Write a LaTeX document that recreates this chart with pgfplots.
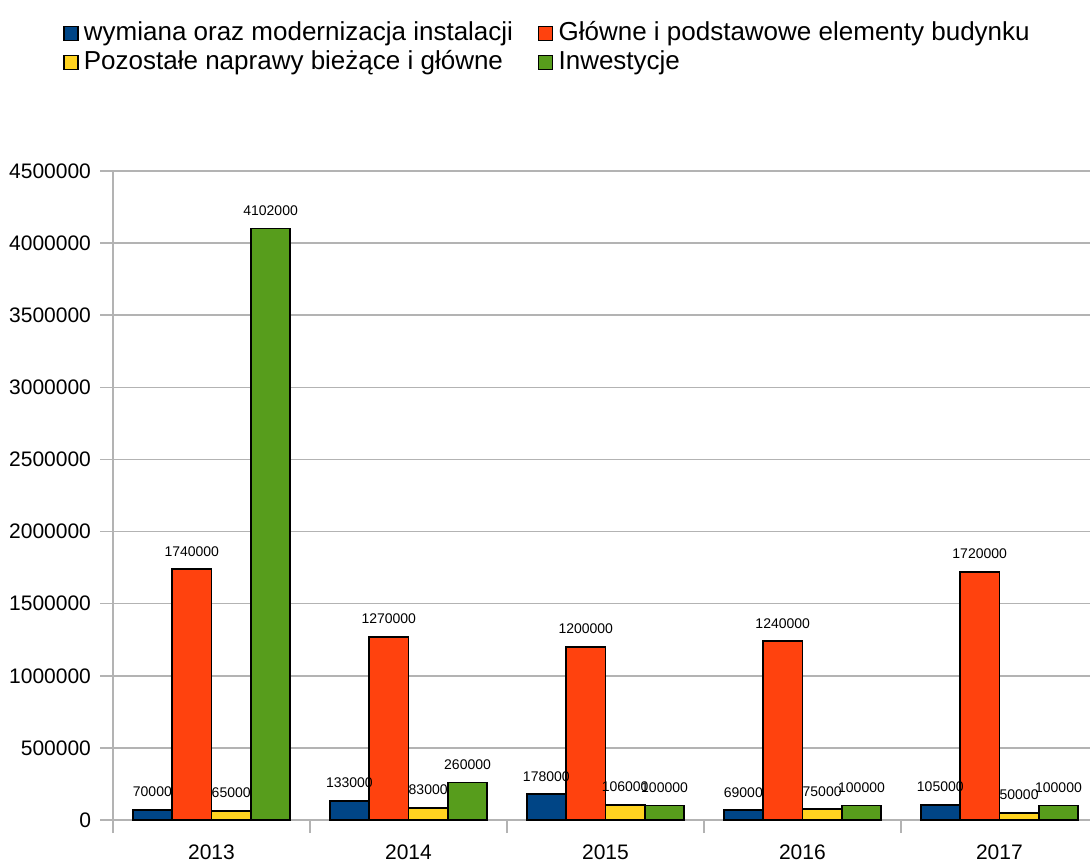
\documentclass[border=0pt]{standalone}
\usepackage{fontspec}
\setmainfont{Liberation Sans}
\usepackage{pgfplots}
\pgfplotsset{compat=1.18}
\definecolor{cblue}{HTML}{004586}
\definecolor{cred}{HTML}{FF420E}
\definecolor{cyellow}{HTML}{FFD320}
\definecolor{cgreen}{HTML}{579D1C}
\definecolor{cgrid}{HTML}{B3B3B3}
\begin{document}
\begin{tikzpicture}
\useasboundingbox (0,0) rectangle (545pt,431pt);
\begin{axis}[
  at={(56.5pt,21pt)}, anchor=south west,
  scale only axis, width=488.5pt, height=324.5pt,
  xmin=-0.5, xmax=4.46, ymin=0, ymax=4500000,
  axis x line*=bottom, axis y line*=left,
  axis line style={draw=cgrid, line width=0.8pt},
  xtick={-0.5,0.5,1.5,2.5,3.5},
  xticklabels={},
  extra x ticks={0,1,2,3,4},
  extra x tick labels={2013,2014,2015,2016,2017},
  extra x tick style={major tick length=0pt, xmajorgrids=false,
    xticklabel style={anchor=north, yshift=-9pt}},
  tick align=outside,
  major tick length=6.5pt,
  tick style={draw=cgrid, line width=0.8pt},
  ytick={0,500000,...,4500000},
  ymajorgrids, grid style={draw=cgrid, line width=0.8pt},
  scaled y ticks=false,
  /pgf/number format/.cd, fixed, precision=0, 1000 sep={}, assume math mode=true, /pgfplots/.cd,
  ticklabel style={font=\fontsize{10.5}{12}\selectfont},
  yticklabel style={xshift=-1pt},
  ybar, bar width=0.2,
  every axis plot/.append style={draw=black, line width=0.9pt},
  nodes near coords,
  every node near coord/.append style={font=\fontsize{7}{8}\selectfont, anchor=south, inner sep=0pt, yshift=6pt, text=black},
  legend columns=2,
  legend cell align=left,
  legend style={draw=none, fill=none, at={(0,1)}, anchor=north west, xshift=-25pt, yshift=76pt,
    inner sep=0pt, nodes={inner sep=1pt, text height=9.5pt, text depth=2.5pt},
    font=\fontsize{13}{15}\selectfont, row sep=0.5pt,
    /tikz/every even column/.append style={column sep=11.5pt}},
  legend image code/.code={\draw[#1, line width=0.6pt] (0pt,-3.5pt) rectangle (7pt,3.5pt); \path (8.5pt,0pt);},
]
\addplot[fill=cblue, bar shift=-0.3] coordinates {(0,70000) (1,133000) (2,178000) (3,69000) (4,105000)};
\addplot[fill=cred, bar shift=-0.1] coordinates {(0,1740000) (1,1270000) (2,1200000) (3,1240000) (4,1720000)};
\addplot[fill=cyellow, bar shift=0.1] coordinates {(0,65000) (1,83000) (2,106000) (3,75000) (4,50000)};
\addplot[fill=cgreen, bar shift=0.3] coordinates {(0,4102000) (1,260000) (2,100000) (3,100000) (4,100000)};
\legend{wymiana oraz modernizacja instalacji, Główne i podstawowe elementy budynku, Pozostałe naprawy bieżące i główne, Inwestycje}
\end{axis}
\end{tikzpicture}
\end{document}
